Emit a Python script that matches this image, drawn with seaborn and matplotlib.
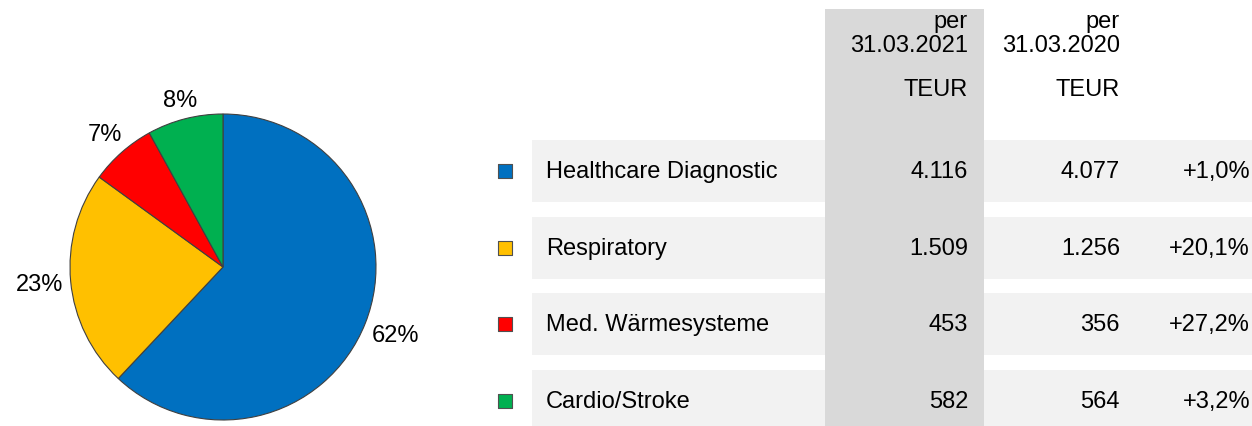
import matplotlib
matplotlib.use("Agg")
import matplotlib.pyplot as plt
import numpy as np
import pandas as pd
import seaborn as sns

# segment data
segments = ["Healthcare Diagnostic", "Respiratory", "Med. Wärmesysteme", "Cardio/Stroke"]
share_pct = [62, 23, 7, 8]
teur_2021 = ["4.116", "1.509", "453", "582"]
teur_2020 = ["4.077", "1.256", "356", "564"]
change = ["+1,0%", "+20,1%", "+27,2%", "+3,2%"]
header_2021 = ["per", "31.03.2021", "TEUR"]
header_2020 = ["per", "31.03.2020", "TEUR"]
colors = ["#0070C0", "#FFC000", "#FF0000", "#00B050"]

sns.set_theme(style="white")
plt.rcParams["font.family"] = ["Liberation Sans", "DejaVu Sans"]
plt.rcParams["text.color"] = "black"

W, H = 1252, 427
fig = plt.figure(figsize=(W / 100, H / 100), dpi=100)

# table axes in pixel units
ax = fig.add_axes([0, 0, 1, 1])
ax.set_xlim(0, W)
ax.set_ylim(H, 0)
ax.axis("off")

row_y = [172, 249, 325, 402]
df = pd.DataFrame({"segment": segments, "y": row_y, "color": colors})

# light row bands
ax.barh(df["y"], width=W - 532, left=532, height=62, color="#F2F2F2",
        linewidth=0, zorder=1)
# highlighted current-year column
ax.bar(904.5, height=H - 10, bottom=10, width=159, color="#D9D9D9",
       linewidth=0, zorder=2)

# legend squares
sns.scatterplot(data=df, x=[505] * len(df), y="y", hue="segment",
                palette=dict(zip(segments, colors)), marker="s", s=90,
                edgecolor="#505050", linewidth=0.8, legend=False, ax=ax, zorder=3)
ax.set_xlim(0, W)
ax.set_ylim(H, 0)

fs = 17
for i, seg in enumerate(segments):
    y = row_y[i]
    ax.text(546, y, seg, ha="left", va="center", fontsize=fs, zorder=4)
    ax.text(968, y, teur_2021[i], ha="right", va="center", fontsize=fs, zorder=4)
    ax.text(1120, y, teur_2020[i], ha="right", va="center", fontsize=fs, zorder=4)
    ax.text(1250, y, change[i], ha="right", va="center", fontsize=fs, zorder=4)

header_base = [28, 52, 96]
for hy, a, b in zip(header_base, header_2021, header_2020):
    ax.text(968, hy, a, ha="right", va="baseline", fontsize=fs, zorder=4)
    ax.text(1120, hy, b, ha="right", va="baseline", fontsize=fs, zorder=4)

# pie chart
ax_pie = fig.add_axes([70 / W, 6 / H, 306 / W, 306 / H])
wedges, texts = ax_pie.pie(
    share_pct, colors=colors, startangle=90, counterclock=False,
    labels=[f"{p}%" for p in share_pct], labeldistance=1.2,
    wedgeprops=dict(edgecolor="#404040", linewidth=0.8),
    textprops=dict(fontsize=fs, color="black"),
)
ax_pie.set_xlim(-1, 1)
ax_pie.set_ylim(-1, 1)
ax_pie.set_aspect("equal")

# place labels just outside the rim, Excel-style
fig.canvas.draw()
renderer = fig.canvas.get_renderer()
px_per_unit = 153.0
gap = 7.0
for w, t in zip(wedges, texts):
    t.set_horizontalalignment("center")
    t.set_verticalalignment("center")
    ang = np.deg2rad((w.theta1 + w.theta2) / 2)
    bb = t.get_window_extent(renderer)
    hw, hh = bb.width / 2, bb.height / 2 * 0.8
    ext = abs(np.cos(ang)) * hw + abs(np.sin(ang)) * hh
    d = (px_per_unit + gap + ext) / px_per_unit
    t.set_position((d * np.cos(ang), d * np.sin(ang)))

fig.savefig("out.png", dpi=100)
